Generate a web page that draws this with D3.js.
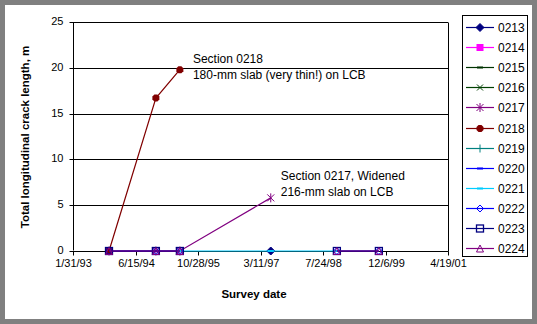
<!DOCTYPE html>
<html><head><meta charset="utf-8">
<script src="https://cdn.jsdelivr.net/npm/d3@7"></script>
<style>
html,body{margin:0;padding:0;background:#fff;}
svg{display:block;font-family:"Liberation Sans",Arial,sans-serif;}
</style></head>
<body>
<svg id="chart" width="537" height="324"></svg>
<script>
// ---- data ----
const surveyDates = ["11/15/93","11/25/94","6/5/95","6/1/97","11/12/98","10/14/99"];
const xTickLabels = ["1/31/93","6/15/94","10/28/95","3/11/97","7/24/98","12/6/99","4/19/01"];
const yTicks = [0,5,10,15,20,25];
const seriesNames = ["0213","0214","0215","0216","0217","0218","0219","0220","0221","0222","0223","0224"];
const s0213 = [null,null,null,0,null,null];
const s0214 = [null,null,null,null,null,null];
const s0215 = [null,null,null,null,null,null];
const s0216 = [null,null,null,null,null,null];
const s0217 = [0,0,0,5.8,null,null];
const s0218 = [0,16.7,19.8,null,null,null];
const s0219 = [null,null,null,null,null,null];
const s0220 = [null,null,null,null,null,null];
const s0221 = [null,null,0,0,0,null];
const s0222 = [0,0,0,null,0,0];
const s0223 = [0,0,0,null,0,0];
const s0224 = [0,0,0,null,0,0];
const seriesValues = [s0213,s0214,s0215,s0216,s0217,s0218,s0219,s0220,s0221,s0222,s0223,s0224];
const annotations = [
  {lines:["Section 0218","180-mm slab (very thin!) on LCB"], date:"6/5/95", value:19.8},
  {lines:["Section 0217, Widened","216-mm slab on LCB"], date:"6/1/97", value:5.8}
];

// ---- styles ----
const colors = ["#000080","#ff00ff","#003300","#004000","#800080","#800000","#008080","#0000ff","#00ccff","#0000ff","#000080","#800080"];
const markers = ["diamondF","squareF","dash","x","star","circleF","plus","dash","dash","diamondO","squareO","triangleO"];

const parse = d3.timeParse("%m/%d/%y");
const svg = d3.select("#chart");

// frame
svg.append("rect").attr("x",0).attr("y",0).attr("width",537).attr("height",324).attr("fill","#808080");
svg.append("rect").attr("x",5).attr("y",5).attr("width",527).attr("height",314).attr("fill","#ffffff");

const x = d3.scaleTime().domain([parse(xTickLabels[0]), parse(xTickLabels[xTickLabels.length-1])]).range([73,448]);
const y = d3.scaleLinear().domain([0,25]).range([251,22]);

const g = svg.append("g");

// gridlines
g.selectAll(".grid").data(yTicks.filter(v=>v>0)).join("line")
  .attr("x1",73).attr("x2",448)
  .attr("y1",d=>Math.round(y(d))+0.5).attr("y2",d=>Math.round(y(d))+0.5)
  .attr("stroke","#000").attr("stroke-width",1);
// right border
g.append("line").attr("x1",448.5).attr("x2",448.5).attr("y1",Math.round(y(25))+0.5).attr("y2",251.5).attr("stroke","#000");

// axes
const yAxis = d3.axisLeft(y).tickValues(yTicks).tickSize(4).tickPadding(6).tickFormat(d3.format("d"));
const yg = svg.append("g").attr("transform","translate(73.5,0.5)").call(yAxis);
yg.selectAll(".tick").attr("transform",d=>`translate(0,${Math.round(y(d))})`);
yg.selectAll(".tick text").attr("dy","0.25em");
const xAxis = d3.axisBottom(x).tickValues(xTickLabels.map(parse)).tickSize(4).tickPadding(3.5).tickFormat(d3.timeFormat("%-m/%-d/%y"));
const xg = svg.append("g").attr("transform","translate(0.5,251.5)").call(xAxis);
xg.selectAll(".tick").attr("transform",d=>`translate(${Math.round(x(d))},0)`);
[yg,xg].forEach(a=>{
  a.select(".domain").attr("stroke","#000");
  a.selectAll("line").attr("stroke","#000");
  a.selectAll("text").attr("font-size","11px").attr("fill","#000").attr("font-family","Liberation Sans, Arial, sans-serif");
});
xg.select(".domain").attr("d","M72,0H448");
yg.select(".domain").attr("d","M0,"+(Math.round(y(25)))+"V250");

// marker drawing
function drawMarker(sel, type, color){
  const s = 3.5;
  switch(type){
    case "diamondF": sel.append("path").attr("d",`M0,${-s-0.5}L${s+0.5},0L0,${s+0.5}L${-s-0.5},0Z`).attr("fill",color).attr("stroke",color); break;
    case "diamondO": sel.append("path").attr("d",`M0,${-s}L${s},0L0,${s}L${-s},0Z`).attr("fill","none").attr("stroke",color); break;
    case "squareF": sel.append("rect").attr("x",-s).attr("y",-s).attr("width",2*s).attr("height",2*s).attr("fill",color); break;
    case "squareO": sel.append("rect").attr("x",-s).attr("y",-s).attr("width",2*s).attr("height",2*s).attr("fill","none").attr("stroke",color).attr("stroke-width",1.3); break;
    case "dash": sel.append("rect").attr("x",-3).attr("y",-1).attr("width",6).attr("height",2).attr("fill",color); break;
    case "x": sel.append("path").attr("d",`M-3,-3L3,3M-3,3L3,-3`).attr("stroke",color).attr("fill","none"); break;
    case "plus": sel.append("path").attr("d",`M-4,0H4M0,-4V4`).attr("stroke",color).attr("fill","none"); break;
    case "star": sel.append("path").attr("d",`M-3.5,-3.5L3.5,3.5M-3.5,3.5L3.5,-3.5M0,-4.5V4.5`).attr("stroke",color).attr("fill","none"); break;
    case "circleF": sel.append("path").attr("d","M-1.5,-3.5H1.5L3.5,-1.5V1.5L1.5,3.5H-1.5L-3.5,1.5V-1.5Z").attr("fill",color); break;
    case "triangleO": sel.append("path").attr("d",`M0,${-s}L${s},${s}L${-s},${s}Z`).attr("fill","none").attr("stroke",color); break;
  }
}

// series
const dates = surveyDates.map(parse);
const line = d3.line().defined(d=>d.v!=null).x(d=>x(d.t)).y(d=>y(d.v));
const plot = svg.append("g");
seriesValues.forEach((vals,i)=>{
  const pts = vals.map((v,j)=>({t:dates[j],v:v}));
  const sg = plot.append("g");
  sg.append("path").attr("d",line(pts)).attr("fill","none").attr("stroke",colors[i]).attr("stroke-width",1.2);
  pts.filter(p=>p.v!=null).forEach(p=>{
    const mg = sg.append("g").attr("transform",`translate(${x(p.t)},${y(p.v)})`);
    drawMarker(mg, markers[i], colors[i]);
  });
});

// annotations
const ann = [{dx:13,dy:-6.5},{dx:10,dy:-18}];
annotations.forEach((a,i)=>{
  const t = svg.append("text").attr("font-size","12px").attr("fill","#000");
  const px = x(parse(a.date)) + ann[i].dx, py = y(a.value) + ann[i].dy;
  a.lines.forEach((l,k)=>t.append("tspan").attr("x",px).attr("y",py+k*16).text(l));
});

// axis titles
svg.append("text").attr("x",254).attr("y",298).attr("text-anchor","middle").attr("font-size","11.5px").attr("font-weight","bold").text("Survey date");
svg.append("text").attr("transform","translate(28.5,137) rotate(-90)").attr("text-anchor","middle").attr("font-size","11.5px").attr("font-weight","bold").text("Total longitudinal crack length, m");

// legend
const lg = svg.append("g");
lg.append("rect").attr("x",462.5).attr("y",15.5).attr("width",65).attr("height",241).attr("fill","#fff").attr("stroke","#000");
seriesNames.forEach((n,i)=>{
  const yy = Math.round(27 + i*20.1);
  const row = lg.append("g").attr("transform",`translate(0,${yy})`);
  row.append("line").attr("x1",466).attr("x2",494).attr("y1",0.5).attr("y2",0.5).attr("stroke",colors[i]).attr("stroke-width",1.2);
  const mg = row.append("g").attr("transform","translate(480,0.5)");
  drawMarker(mg, markers[i], colors[i]);
  row.append("text").attr("x",498).attr("y",4.5).attr("font-size","12px").text(n);
});
</script>
</body></html>
